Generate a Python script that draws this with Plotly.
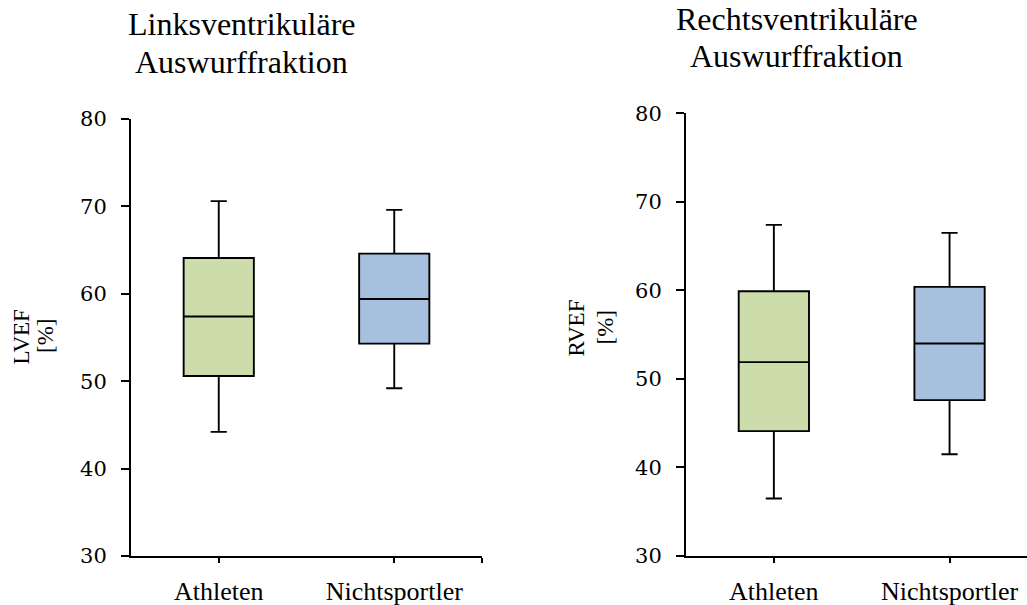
import plotly.graph_objects as go

categories = ["Athleten", "Nichtsportler"]

# Linksventrikuläre Auswurffraktion (LVEF, %)
lv_lower = [44.2, 49.2]
lv_q1 = [50.6, 54.3]
lv_median = [57.4, 59.4]
lv_q3 = [64.1, 64.6]
lv_upper = [70.6, 69.6]

# Rechtsventrikuläre Auswurffraktion (RVEF, %)
rv_lower = [36.5, 41.5]
rv_q1 = [44.1, 47.6]
rv_median = [51.9, 54.0]
rv_q3 = [59.9, 60.4]
rv_upper = [67.4, 66.5]

fill_colors = ["#CDDCAB", "#A7C0DE"]

W, H = 1027, 605

fig = go.Figure()

def add_boxes(lower, q1, med, q3, upper, xaxis, yaxis):
    for i, cat in enumerate(categories):
        fig.add_trace(go.Box(
            x=[i + 0.5], lowerfence=[lower[i]], q1=[q1[i]], median=[med[i]],
            q3=[q3[i]], upperfence=[upper[i]], name=cat,
            fillcolor=fill_colors[i], line=dict(color="black", width=1.9),
            width=0.4, whiskerwidth=0.23, boxpoints=False,
            xaxis=xaxis, yaxis=yaxis, showlegend=False, hoverinfo="skip"))

add_boxes(lv_lower, lv_q1, lv_median, lv_q3, lv_upper, "x", "y")
add_boxes(rv_lower, rv_q1, rv_median, rv_q3, rv_upper, "x2", "y2")

tick_font = dict(family="DejaVu Serif", size=21, color="black")
cat_font = dict(family="Liberation Serif", size=26, color="black")

yax_common = dict(range=[30, 80], tickvals=[30, 40, 50, 60, 70, 80],
                  showline=True, linecolor="black", linewidth=2,
                  ticks="outside", ticklen=8, tickwidth=2, tickcolor="black",
                  showgrid=False, zeroline=False, tickfont=tick_font,
                  ticklabelstandoff=10, automargin=False, fixedrange=True)
xax_common = dict(showline=True, linecolor="black", linewidth=2,
                  ticks="outside", ticklen=5, tickwidth=2, tickcolor="black",
                  showgrid=False, zeroline=False, tickfont=cat_font,
                  ticklabelstandoff=6, automargin=False, fixedrange=True)

fig.update_layout(
    width=W, height=H,
    margin=dict(l=0, r=0, t=0, b=0, pad=0, autoexpand=False),
    paper_bgcolor="white", plot_bgcolor="white",
    xaxis=dict(domain=[131 / W, 482 / W], range=[0, 2],
               tickvals=[0.5, 1.5, 2], ticktext=categories + [""],
               anchor="y", **xax_common),
    yaxis=dict(domain=[49 / H, 486 / H], anchor="x", **yax_common),
    xaxis2=dict(domain=[686 / W, 1.0], range=[0, 341.0 / 175.7],
                tickvals=[0.5, 1.5], ticktext=categories,
                anchor="y2", **xax_common),
    yaxis2=dict(domain=[49 / H, 491.7 / H], anchor="x2", **yax_common),
)

title_font = dict(family="Liberation Serif", size=32, color="black")
ytitle_font = dict(family="Liberation Serif", size=23, color="black")

def ann(text, x, y, font, angle=0):
    fig.add_annotation(text=text, x=x / W, y=1 - y / H, xref="paper", yref="paper",
                       xanchor="center", yanchor="middle", showarrow=False,
                       font=font, textangle=angle)

ann("Linksventrikuläre", 241.5, 24, title_font)
ann("Auswurffraktion", 241, 61.5, title_font)
ann("Rechtsventrikuläre", 796.7, 19, title_font)
ann("Auswurffraktion", 796.7, 56, title_font)

ann("LVEF", 21, 337.5, ytitle_font, -90)
ann("[%]", 45, 336, ytitle_font, -90)
ann("RVEF", 576.5, 328, ytitle_font, -90)
ann("[%]", 605.5, 328, ytitle_font, -90)

fig.write_html("out.html", config={"displayModeBar": False, "staticPlot": True},
               post_script="document.body.style.margin='0';document.body.style.padding='0';")
